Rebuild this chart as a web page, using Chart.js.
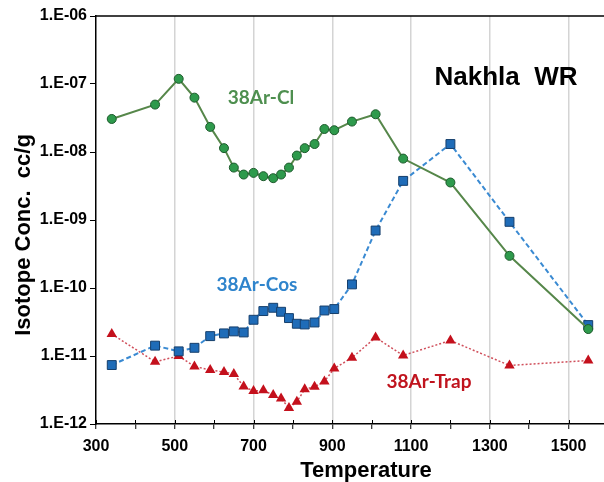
<!DOCTYPE html>
<html>
<head>
<meta charset="utf-8">
<script src="https://cdn.jsdelivr.net/npm/chart.js@4/dist/chart.umd.min.js"></script>
<style>
  html, body { margin: 0; padding: 0; background: #fff; }
  #c { display: block; }
</style>
</head>
<body>
<canvas id="c" width="604" height="482"></canvas>
<script>
// step temperatures (C)
const temps = [340, 450, 510, 550, 590, 625, 650, 675, 700, 725, 750, 770, 790, 810, 830, 855, 880, 905, 950, 1010, 1080, 1200, 1350, 1550];

// 38Ar components, cc/g
const arCl = [3.06e-8, 4.98e-8, 1.19e-7, 6.3e-8, 2.34e-8, 1.14e-8, 5.9e-9, 4.66e-9, 4.93e-9, 4.41e-9, 4.12e-9, 4.66e-9,
  5.9e-9, 8.86e-9, 1.14e-8, 1.31e-8, 2.18e-8, 2.09e-8, 2.8e-8, 3.59e-8, 8.0e-9, 3.56e-9, 2.97e-10, 2.49e-11];
const arCos = [7.36e-12, 1.42e-11, 1.17e-11, 1.32e-11, 1.96e-11, 2.15e-11, 2.3e-11, 2.22e-11, 3.41e-11, 4.58e-11, 5.12e-11, 4.47e-11,
  3.61e-11, 2.98e-11, 2.91e-11, 3.11e-11, 4.67e-11, 4.9e-11, 1.13e-10, 7.0e-10, 3.76e-9, 1.31e-8, 9.4e-10, 2.85e-11];
const arTrap = [2.1e-11, 8.23e-12, 9.98e-12, 7.03e-12, 6.21e-12, 5.81e-12, 5.43e-12, 3.57e-12, 3.05e-12, 3.13e-12, 2.67e-12, 2.38e-12,
  1.72e-12, 2.13e-12, 3.23e-12, 3.53e-12, 4.23e-12, 6.56e-12, 9.42e-12, 1.87e-11, 1.02e-11, 1.69e-11, 7.26e-12, 8.6e-12];

// x ticks every 100, labelled every 200
const xTicks = [300, 400, 500, 600, 700, 800, 900, 1000, 1100, 1200, 1300, 1400, 1500];
// y axis decades (exponents)
const yDecades = [-12, -11, -10, -9, -8, -7, -6];

function pts(ys) {
  return temps.map((t, i) => ({ x: t, y: ys[i] }));
}

const CLEAR = 'rgba(0,0,0,0)';

// extra bits: top frame line, upper half of x ticks, titles and labels
const extras = {
  id: 'extras',
  afterDraw(chart) {
    const ctx = chart.ctx;
    const a = chart.chartArea;
    const xs = chart.scales.x;
    ctx.save();
    ctx.strokeStyle = '#000';
    ctx.lineWidth = 1.5;
    ctx.beginPath();
    ctx.moveTo(a.left, a.top);
    ctx.lineTo(a.right, a.top);
    ctx.stroke();
    ctx.lineWidth = 1;
    xTicks.forEach(v => {
      const px = Math.round(xs.getPixelForValue(v)) + 0.5;
      ctx.beginPath();
      ctx.moveTo(px, a.bottom);
      ctx.lineTo(px, a.bottom - 4);
      ctx.stroke();
    });

    ctx.textAlign = 'center';
    ctx.textBaseline = 'alphabetic';
    ctx.fillStyle = '#000';
    ctx.font = 'bold 22px "Liberation Sans", Arial, sans-serif';
    ctx.fillText('Temperature', 366, 477);

    ctx.font = 'bold 26px "Liberation Sans", Arial, sans-serif';
    ctx.fillText('Nakhla  WR', 506, 85);

    ctx.font = 'bold 19px Lato, "Open Sans", sans-serif';
    ctx.fillStyle = '#4e8f4f';
    ctx.fillText('38Ar-Cl', 261, 104);
    ctx.fillStyle = '#2f84cc';
    ctx.fillText('38Ar-Cos', 257, 291);
    ctx.fillStyle = '#c0141e';
    ctx.fillText('38Ar-Trap', 429, 388);

    ctx.translate(30, 235);
    ctx.rotate(-Math.PI / 2);
    ctx.fillStyle = '#000';
    ctx.font = 'bold 22px "Liberation Sans", Arial, sans-serif';
    ctx.fillText('Isotope Conc.  cc/g', 0, 0);
    ctx.restore();
  }
};

new Chart(document.getElementById('c'), {
  type: 'scatter',
  data: {
    datasets: [
      {
        label: '38Ar-Cl',
        data: pts(arCl),
        showLine: true,
        borderColor: '#56874a',
        borderWidth: 2,
        pointStyle: 'circle',
        pointRadius: 4.5,
        pointBackgroundColor: '#2e9a4c',
        pointBorderColor: '#1d5a2c',
        pointBorderWidth: 1
      },
      {
        label: '38Ar-Cos',
        data: pts(arCos),
        showLine: true,
        borderColor: '#3a8ad2',
        borderWidth: 2,
        borderDash: [5, 3],
        pointStyle: 'rect',
        pointRadius: 6.3,
        pointBackgroundColor: '#1f6cb8',
        pointBorderColor: '#163f6c',
        pointBorderWidth: 1
      },
      {
        label: '38Ar-Trap',
        data: pts(arTrap),
        showLine: true,
        borderColor: '#d0505c',
        borderWidth: 1.5,
        borderDash: [2, 2],
        pointStyle: 'triangle',
        pointRadius: 6,
        pointBackgroundColor: '#c4101c',
        pointBorderColor: '#c4101c',
        pointBorderWidth: 0
      }
    ]
  },
  options: {
    responsive: false,
    animation: false,
    layout: { autoPadding: false, padding: { top: 16, left: 0, right: 0, bottom: 0 } },
    plugins: {
      legend: { display: false },
      tooltip: { enabled: false }
    },
    scales: {
      x: {
        type: 'linear',
        min: 300,
        max: 1590,
        afterBuildTicks(s) {
          s.ticks = xTicks.map(v => ({ value: v }));
        },
        afterFit(s) {
          s.height = 58;
        },
        border: { color: '#000', width: 1.5 },
        grid: {
          color: c => (c.tick && c.tick.value % 200 === 100 && c.tick.value > 300) ? '#d4d4d4' : CLEAR,
          lineWidth: 1.5,
          tickColor: '#000',
          tickLength: 5,
          tickWidth: 1
        },
        ticks: {
          autoSkip: false,
          maxRotation: 0,
          padding: 8,
          color: '#000',
          font: { family: '"Liberation Sans", Arial, sans-serif', size: 16, weight: 'bold' },
          callback: v => (v % 200 === 100) ? String(v) : ''
        }
      },
      y: {
        type: 'logarithmic',
        min: 1e-12,
        max: 1e-6,
        afterFit(s) { s.width = 96; },
        afterBuildTicks(s) {
          s.ticks = yDecades.map(e => ({ value: Math.pow(10, e) }));
        },
        border: { color: '#000', width: 1.5 },
        grid: {
          drawOnChartArea: false,
          tickColor: '#000',
          tickLength: 6,
          tickWidth: 1
        },
        ticks: {
          padding: 3,
          color: '#000',
          font: { family: '"Liberation Sans", Arial, sans-serif', size: 16, weight: 'bold' },
          callback: v => '1.E-' + String(-Math.round(Math.log10(v))).padStart(2, '0')
        }
      }
    }
  },
  plugins: [extras]
});
</script>
</body>
</html>
